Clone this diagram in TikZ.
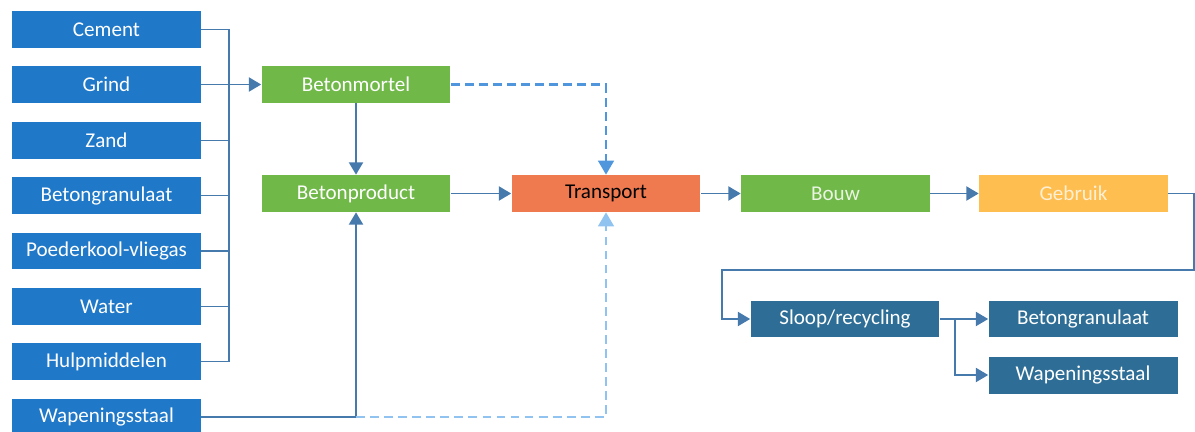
\documentclass[tikz,border=0pt]{standalone}
\usepackage{fontspec}
\setmainfont{Carlito}
\usetikzlibrary{arrows.meta}
\definecolor{grondblauw}{RGB}{31,120,200}
\definecolor{betongroen}{RGB}{112,184,72}
\definecolor{transportrood}{RGB}{240,122,80}
\definecolor{gebruikgeel}{RGB}{255,190,80}
\definecolor{sloopblauw}{RGB}{46,110,150}
\definecolor{lijnblauw}{RGB}{70,122,172}
\definecolor{stippelblauw}{RGB}{80,150,220}
\definecolor{lichtblauw}{RGB}{145,195,240}
\begin{document}
\begin{tikzpicture}[x=0.02cm, y=-0.02cm,
   box/.style={minimum width=3.78cm, minimum height=0.74cm, inner sep=0pt,
     text=white, font=\fontsize{12}{14}\selectfont},
   grond/.style={box, fill=grondblauw},
   groen/.style={box, fill=betongroen},
   sloopbox/.style={box, fill=sloopblauw},
   lijn/.style={draw=lijnblauw, line width=1.1pt},
   pijl/.style={lijn, -{Triangle[width=8pt,length=7pt]}},
   stippel/.style={draw=stippelblauw, line width=1.3pt, dash pattern=on 5pt off 3pt,
     -{Triangle[width=9pt,length=8pt]}},
   lichtstippel/.style={stippel, draw=lichtblauw}]
   \useasboundingbox (0,0) rectangle (1195,432);
   \node[grond] (cement) at (106.5,29.5) {Cement};
   \node[grond] (grind) at (106.5,84.5) {Grind};
   \node[grond] (zand) at (106.5,140.5) {Zand};
   \node[grond] (granulaat) at (106.5,195.5) {Betongranulaat};
   \node[grond] (vliegas) at (106.5,251) {Poederkool-vliegas};
   \node[grond] (water) at (106.5,306.5) {Water};
   \node[grond] (hulp) at (106.5,361.5) {Hulpmiddelen};
   \node[grond] (staal) at (106.5,417) {Wapeningsstaal};
   \node[groen] (mortel) at (356,84.5) {Betonmortel};
   \node[groen] (product) at (356,193.5) {Betonproduct};
   \node[box, fill=transportrood, text=black] (transport) at (606,193.5) {Transport};
   \node[groen, text=white!85!betongroen] (bouw) at (835.5,193.5) {Bouw};
   \node[box, fill=gebruikgeel, text=white!75!gebruikgeel] (gebruik) at (1073.5,193.5) {Gebruik};
   \node[sloopbox] (sloop) at (845,319) {Sloop/recycling};
   \node[sloopbox] (granulaatuit) at (1083,319) {Betongranulaat};
   \node[sloopbox] (staaluit) at (1083,375) {Wapeningsstaal};
   \coordinate (bus) at (229,0);
   \coordinate (knik) at (product.south |- staal.east);
   \coordinate (bocht) at (1194,270);
   \coordinate (terug) at (722,270);
   \coordinate (splits) at (955,319);
   \draw[lijn] (cement.east) -| (bus |- hulp.east) -- (hulp.east);
   \foreach \n in {zand, granulaat, vliegas, water}
     \draw[lijn] (\n.east) -- (\n.east -| bus);
   \draw[pijl] (grind.east) -- (mortel.west);
   \draw[pijl] (mortel.south) -- (product.north);
   \draw[stippel] (mortel.east) -| (transport.north);
   \draw[pijl] (staal.east) -| (product.south);
   \draw[lichtstippel] (knik) -| (transport.south);
   \draw[pijl] (product.east) -- (transport.west);
   \draw[pijl] (transport.east) -- (bouw.west);
   \draw[pijl] (bouw.east) -- (gebruik.west);
   \draw[pijl] (gebruik.east) -| (bocht) -- (terug) |- (sloop.west);
   \draw[pijl] (sloop.east) -- (granulaatuit.west);
   \draw[pijl] (splits) |- (staaluit.west);
\end{tikzpicture}
\end{document}
